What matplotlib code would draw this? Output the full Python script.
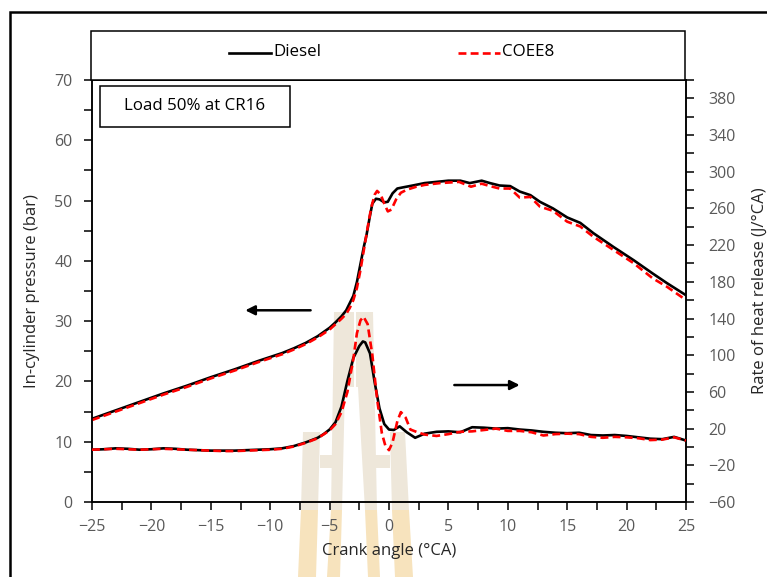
import numpy as np
import matplotlib
matplotlib.use("Agg")
import matplotlib.pyplot as plt
from matplotlib.patches import Rectangle, Polygon
from matplotlib.lines import Line2D
from matplotlib.ticker import MultipleLocator

plt.rcParams['font.family'] = ['Open Sans', 'DejaVu Sans']

# ---------------- data ----------------
p_diesel_x = [-25, -23, -21, -19, -17, -15, -13, -11, -9, -8, -7, -6, -5, -4.5, -4, -3.6, -3.3, -3.0,
              -2.7, -2.4, -2.1, -1.9, -1.6, -1.4, -1.1, -0.8, -0.4, -0.1, 0.3, 0.7, 1.2, 2.0, 3.0,
              4.0, 5.0, 6.0, 6.8, 7.8, 8.5, 9.3, 10.2, 11.0, 11.9, 12.7, 13.8, 15.0, 16.1, 17.2,
              18.9, 20.6, 22.2, 23.4, 25]
p_diesel_y = [13.8, 15.2, 16.6, 18.0, 19.3, 20.7, 22.0, 23.4, 24.7, 25.5, 26.4, 27.5, 28.9, 29.8, 30.8,
              31.8, 33.0, 34.2, 36.5, 39.5, 42.5, 44.2, 47.5, 49.5, 50.3, 50.2, 49.7, 49.8, 51.2,
              52.0, 52.2, 52.5, 52.9, 53.1, 53.3, 53.3, 52.9, 53.3, 52.9, 52.5, 52.4, 51.5, 50.9,
              49.8, 48.7, 47.2, 46.3, 44.6, 42.3, 40.1, 37.9, 36.3, 34.3]

p_coee8_x = [-25, -23, -21, -19, -17, -15, -13, -11, -9, -8, -7, -6, -5, -4.5, -4, -3.6, -3.3, -3.0,
             -2.7, -2.4, -2.1, -1.8, -1.5, -1.2, -1.0, -0.7, -0.4, -0.1, 0.2, 0.6, 1.0, 1.5, 2.3,
             3.0, 4.3, 5.9, 6.9, 7.8, 8.5, 9.3, 10.2, 11.0, 11.9, 12.7, 13.8, 15.0, 16.1, 17.2,
             18.9, 20.6, 22.2, 23.4, 25]
p_coee8_y = [13.6, 15.0, 16.4, 17.8, 19.1, 20.5, 21.8, 23.2, 24.5, 25.3, 26.2, 27.3, 28.6, 29.5, 30.4,
             31.2, 32.2, 33.5, 35.5, 38.5, 42.0, 45.5, 48.8, 51.0, 51.6, 51.0, 49.5, 48.2, 48.5,
             50.2, 51.3, 51.8, 52.3, 52.6, 52.9, 53.1, 52.3, 52.8, 52.4, 52.0, 52.0, 50.5, 50.6,
             49.0, 48.3, 46.5, 45.7, 44.0, 41.8, 39.6, 37.1, 35.7, 33.5]

hrr_diesel_x = [-25, -24, -23, -22, -21, -20, -19, -18, -17, -16, -15, -14, -13, -12, -11, -10, -9,
                -8, -7, -6, -5.5, -5, -4.5, -4, -3.5, -3, -2.5, -2.2, -2, -1.6, -1.2, -0.8, -0.4,
                0, 0.4, 0.9, 1.5, 2.2, 3, 4, 5, 6, 7, 8, 9, 10, 11, 12, 13, 14, 15, 16, 17, 18,
                19, 20, 21, 22, 23, 24, 25]
hrr_diesel_y = [-3, -2.5, -1.5, -2, -3, -2.5, -1.5, -2, -3, -3.5, -4, -4, -4, -3.5, -3, -2.5, -1.5,
                1, 5, 10, 14, 19, 27, 44, 72, 97, 110, 115, 114, 102, 70, 42, 25,
                19, 18.5, 22.5, 16, 10, 14.5, 16.5, 17, 16, 21.5, 21, 20, 20.5, 19, 18, 16.5, 15.5,
                15, 15.5, 13, 12.5, 13, 12, 10.5, 9, 8.5, 11, 7]

hrr_coee8_x = [-25, -24, -23, -22, -21, -20, -19, -18, -17, -16, -15, -14, -13, -12, -11, -10, -9,
               -8, -7, -6, -5, -4.5, -4, -3.5, -3, -2.7, -2.4, -2.15, -1.8, -1.4, -1.0, -0.6, -0.3,
               0, 0.3, 0.7, 1.0, 1.4, 1.8, 2.4, 3, 4, 5, 6, 7, 8, 9, 10, 11, 12, 13, 14, 15, 16,
               17, 18, 19, 20, 21, 22, 23, 24, 25]
hrr_coee8_y = [-3, -2.5, -2, -2.5, -3, -2.5, -2, -2.5, -3, -3.5, -4, -4.5, -4.5, -4, -3.5, -3, -2,
               0.5, 4.5, 9.5, 18, 25, 38, 60, 96, 124, 138, 142, 134, 100, 52, 15, 1,
               -3.5, 5, 28, 38, 32, 19, 16, 13.5, 12, 14, 16.5, 17, 18.5, 20, 17.5, 17.5, 16,
               12.5, 14, 14.5, 14, 11, 10, 11, 10.5, 9.5, 7.5, 8, 10.5, 7]

series_labels = ["Diesel", "COEE8"]
x_ticks = [-25, -20, -15, -10, -5, 0, 5, 10, 15, 20, 25]
left_ticks = [0, 10, 20, 30, 40, 50, 60, 70]
right_ticks = [-60, -20, 20, 60, 100, 140, 180, 220, 260, 300, 340, 380]

# ---------------- figure ----------------
W, H = 767, 577
fig = plt.figure(figsize=(W / 100, H / 100), dpi=100)

def fx(px):
    return px / W

def fy(py):
    return 1 - py / H

# watermark (background decoration, behind the axes)
wm_upper = '#eee7da'
wm_lower = '#f7e3bd'
shapes = [
    [(303, 432), (320, 432), (318, 510), (301, 510)],
    [(320, 455), (335, 455), (335, 468), (320, 468)],
    [(334, 312), (354, 312), (354, 387), (345, 387), (342, 510), (331, 510)],
    [(356, 312), (373, 312), (377, 510), (365, 510), (358, 387), (356, 387)],
    [(375, 455), (390, 455), (390, 468), (375, 468)],
    [(390, 432), (405, 432), (409, 510), (392, 510)],
]
for s in shapes:
    fig.patches.append(Polygon([(fx(a), fy(b)) for a, b in s], closed=True,
                               transform=fig.transFigure, facecolor=wm_upper,
                               edgecolor='none', zorder=-2))
shapes_low = [
    [(301, 510), (318, 510), (316, 577), (298, 577)],
    [(331, 510), (342, 510), (340, 577), (327, 577)],
    [(365, 510), (377, 510), (380, 577), (368, 577)],
    [(392, 510), (409, 510), (413, 577), (395, 577)],
]
for s in shapes_low:
    fig.patches.append(Polygon([(fx(a), fy(b)) for a, b in s], closed=True,
                               transform=fig.transFigure, facecolor=wm_lower,
                               edgecolor='none', zorder=-2))

# outer frame
fig.patches.append(Rectangle((fx(10), -0.2), 1.5, fy(12) + 0.2, transform=fig.transFigure,
                             fill=False, edgecolor='black', linewidth=1.8, zorder=1))

ax = fig.add_axes([fx(92), fy(502), fx(686) - fx(92), fy(80) - fy(502)])
ax.patch.set_alpha(0)
ax2 = ax.twinx()
ax2.patch.set_alpha(0)
ax.set_zorder(2)
ax2.set_zorder(3)

ax.plot(p_diesel_x, p_diesel_y, color='black', lw=1.9, zorder=3)
ax.plot(p_coee8_x, p_coee8_y, color='#ff0000', lw=1.9, ls=(0, (3, 1.6)), zorder=4)
ax2.plot(hrr_diesel_x, hrr_diesel_y, color='black', lw=1.9, zorder=3)
ax2.plot(hrr_coee8_x, hrr_coee8_y, color='#ff0000', lw=1.9, ls=(0, (3, 1.6)), zorder=4)

ax.set_xlim(-25, 25)
ax.set_ylim(0, 70)
ax2.set_ylim(-60, 400)
ax.set_xticks(x_ticks)
ax.xaxis.set_minor_locator(MultipleLocator(2.5))
ax.set_yticks(left_ticks)
ax.yaxis.set_minor_locator(MultipleLocator(5))
ax2.set_yticks(right_ticks)
ax2.yaxis.set_minor_locator(MultipleLocator(20))

tick_color = '#595959'
for a in (ax, ax2):
    a.tick_params(which='both', direction='out', length=6, width=1.1, color='black',
                  labelcolor=tick_color, labelsize=11.5)
    for sp in a.spines.values():
        sp.set_linewidth(1.1)
        sp.set_color('black')
ax.tick_params(axis='x', pad=6)
ax.tick_params(axis='y', pad=8)
ax2.tick_params(axis='y', pad=10)

ax.set_xlabel('Crank angle (°CA)', fontsize=12, color='#262626', labelpad=6)
ax.set_ylabel('In-cylinder pressure (bar)', fontsize=12, color='#262626', labelpad=10)
ax2.set_ylabel('Rate of heat release (J/°CA)', fontsize=12, color='#262626', labelpad=12)

# arrows indicating axes
ax.annotate('', xy=(-12.1, 31.8), xytext=(-6.6, 31.8),
            arrowprops=dict(arrowstyle='-|>', color='black', lw=1.8, mutation_scale=14,
                            shrinkA=0, shrinkB=0))
ax.annotate('', xy=(11.0, 19.4), xytext=(5.5, 19.4),
            arrowprops=dict(arrowstyle='-|>', color='black', lw=1.8, mutation_scale=14,
                            shrinkA=0, shrinkB=0))

# condition label box
fig.patches.append(Rectangle((fx(100), fy(127)), fx(290) - fx(100), fy(86) - fy(127),
                             transform=fig.transFigure, fill=True, facecolor='white',
                             edgecolor='black', linewidth=1.1, zorder=5))
fig.text(fx(195), fy(106.5), 'Load 50% at CR16', ha='center', va='center', fontsize=12.2,
         color='black', zorder=6)

# legend box
fig.patches.append(Rectangle((fx(91), fy(80)), fx(685) - fx(91), fy(31) - fy(80),
                             transform=fig.transFigure, fill=True, facecolor='white',
                             edgecolor='black', linewidth=1.1, zorder=5))
fig.lines.append(Line2D([fx(229), fx(271)], [fy(53), fy(53)], transform=fig.transFigure,
                        color='black', lw=1.9, zorder=6))
fig.text(fx(273), fy(52), series_labels[0], ha='left', va='center', fontsize=12.2, zorder=6)
fig.lines.append(Line2D([fx(458), fx(500)], [fy(53), fy(53)], transform=fig.transFigure,
                        color='#ff0000', lw=1.9, ls=(0, (3, 1.6)), zorder=6))
fig.text(fx(502), fy(52), series_labels[1], ha='left', va='center', fontsize=12.2, zorder=6)

fig.savefig('out.png', dpi=100)
